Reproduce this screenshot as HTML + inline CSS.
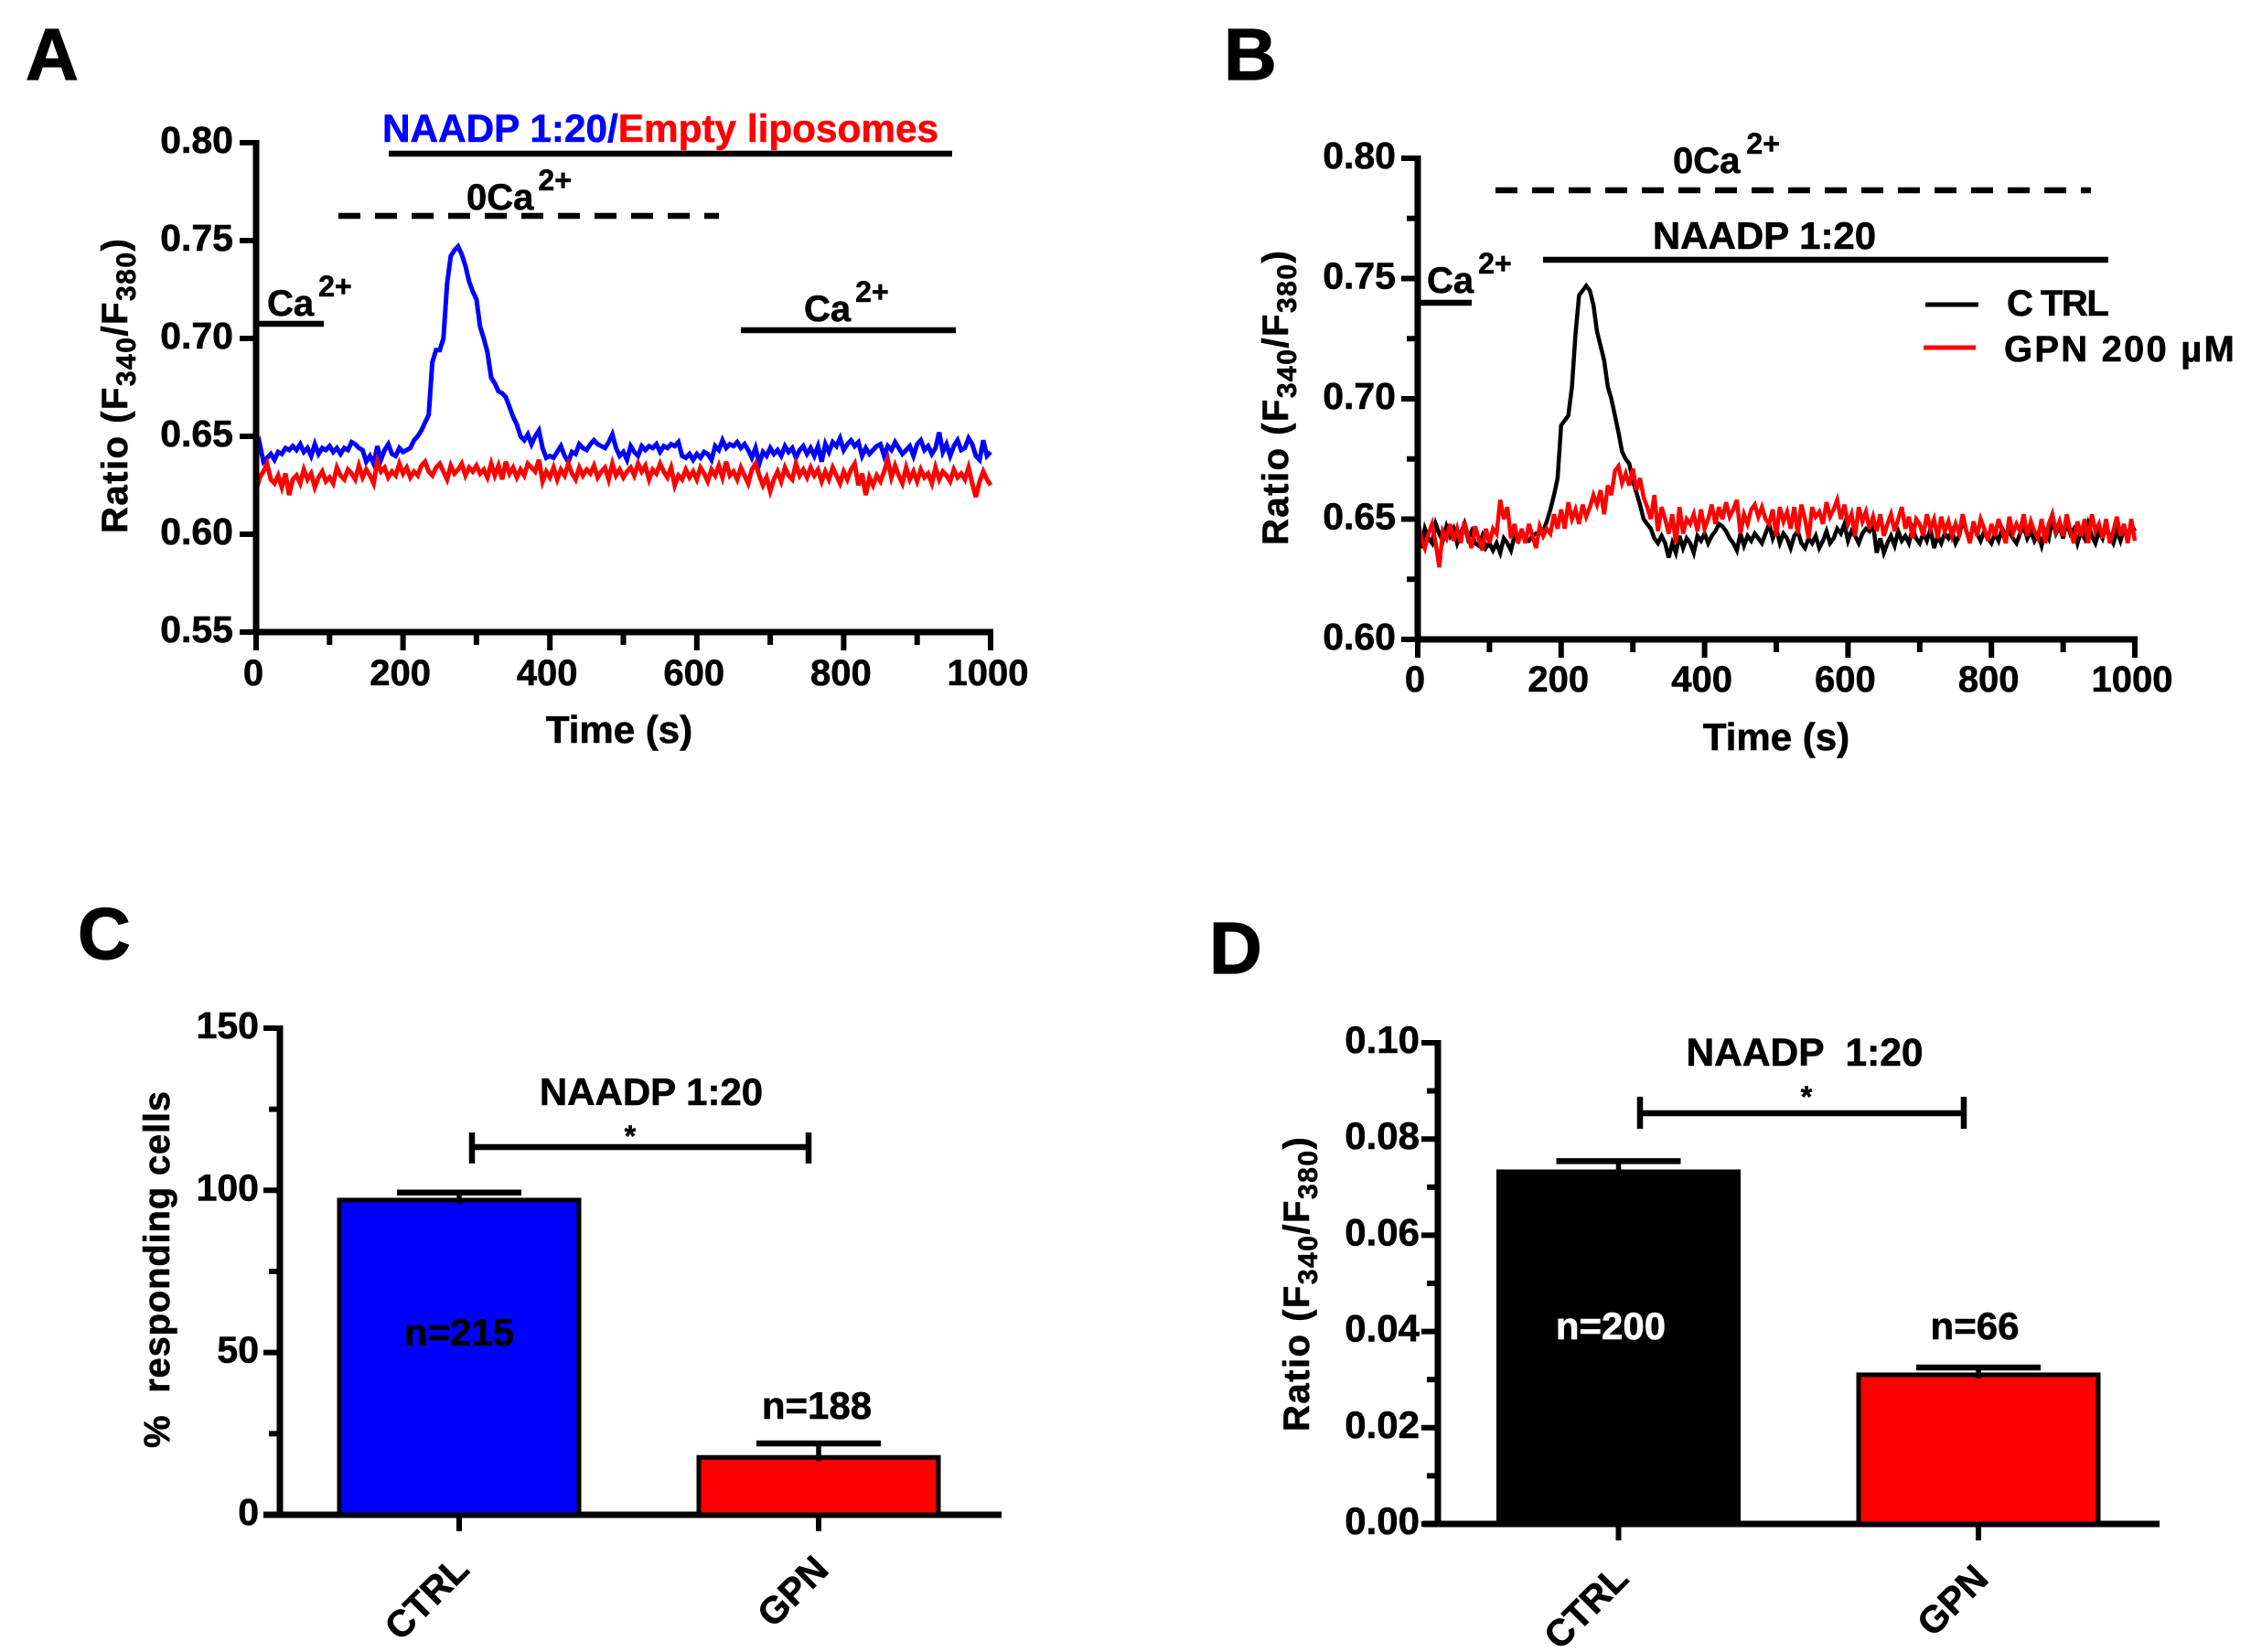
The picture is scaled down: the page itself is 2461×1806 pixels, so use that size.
<!DOCTYPE html>
<html lang="en">
<head>
<meta charset="utf-8">
<title>NAADP calcium response figure</title>
<style>
html,body{margin:0;padding:0;background:#fff;}
svg{display:block;}
text{font-family:"Liberation Sans",Arial,sans-serif;font-weight:700;fill:#000;stroke:#000;stroke-width:.6px;white-space:pre;}
.t40{font-size:40px;}
.t42{font-size:42px;}
.sup{font-size:32px;}
.letter{font-size:80px;stroke-width:1.2px;}
.bar{stroke:#000;stroke-width:6.5;fill:none;}
</style>
</head>
<body>
<svg id="fig" xmlns="http://www.w3.org/2000/svg" width="2461" height="1806" viewBox="0 0 2461 1806">
  <rect width="2461" height="1806" fill="#fff"/>

  <text class="letter" x="28" y="87">A</text>
  <text class="letter" x="1338" y="87">B</text>
  <text class="letter" x="85" y="1048">C</text>
  <text class="letter" x="1322" y="1064">D</text>

  <g id="panelA">
    <text x="418" y="155" style="font-size:42.3px"><tspan style="fill:#0000ff;stroke:#0000ff">NAADP 1:20/</tspan><tspan style="fill:#ff0000;stroke:#ff0000">Empty liposomes</tspan></text>
    <line class="bar" x1="425" x2="1041" y1="168" y2="168"/>
    <text class="t40" x="510" y="229">0Ca<tspan class="sup" dy="-21" dx="5">2+</tspan></text>
    <line class="bar" stroke-dasharray="24 16" x1="370" x2="786" y1="236" y2="236"/>
    <text class="t40" x="292" y="345">Ca<tspan class="sup" dy="-21" dx="5">2+</tspan></text>
    <line class="bar" x1="283" x2="354" y1="354" y2="354"/>
    <text class="t40" x="879" y="351">Ca<tspan class="sup" dy="-21" dx="5">2+</tspan></text>
    <line class="bar" x1="810" x2="1045" y1="361" y2="361"/>
    <text class="t40" transform="translate(139,583) rotate(-90)" style="letter-spacing:1.5px">Ratio (F<tspan dy="9" style="font-size:30px">340</tspan><tspan dy="-9">/F</tspan><tspan dy="9" style="font-size:30px">380</tspan><tspan dy="-9">)</tspan></text>
    <text class="t42" x="677" y="812" text-anchor="middle">Time (s)</text>
  </g>

  <g id="panelB">
    <text class="t40" x="1829" y="189">0Ca<tspan class="sup" dy="-21" dx="7">2+</tspan></text>
    <line class="bar" stroke-dasharray="24 16" x1="1635" x2="2286" y1="208" y2="208"/>
    <text class="t42" x="1929" y="272" text-anchor="middle">NAADP 1:20</text>
    <line class="bar" x1="1687" x2="2305" y1="284" y2="284"/>
    <text class="t40" x="1560" y="320">Ca<tspan class="sup" dy="-21" dx="5">2+</tspan></text>
    <line class="bar" x1="1552" x2="1609" y1="331" y2="331"/>
    <line stroke="#000" stroke-width="5" x1="2105" x2="2163" y1="333" y2="333"/>
    <text class="t40" x="2194" y="345" style="letter-spacing:-1.5px">C TRL</text>
    <line stroke="#f00" stroke-width="5" x1="2103" x2="2160" y1="380" y2="380"/>
    <text class="t40" x="2191" y="395" style="letter-spacing:2.2px">GPN 200 µM</text>
    <text class="t40" transform="translate(1408,596) rotate(-90)" style="letter-spacing:1.5px">Ratio (F<tspan dy="9" style="font-size:30px">340</tspan><tspan dy="-9">/F</tspan><tspan dy="9" style="font-size:30px">380</tspan><tspan dy="-9">)</tspan></text>
    <text class="t42" x="1942" y="820" text-anchor="middle">Time (s)</text>
  </g>

  <g id="panelC">
    <text class="t42" x="712" y="1208" text-anchor="middle">NAADP 1:20</text>
    <text x="689" y="1253" text-anchor="middle" style="font-size:32px">*</text>
    <path class="bar" d="M516 1238V1272M516 1254H884M884 1238V1272"/>
    <text class="t40" transform="translate(185,1583) rotate(-90)" style="letter-spacing:.8px">%  responding cells</text>
  </g>

  <g id="panelD">
    <text x="1973" y="1165" text-anchor="middle" style="font-size:42.5px">NAADP  1:20</text>
    <text x="1975" y="1210" text-anchor="middle" style="font-size:32px">*</text>
    <path class="bar" d="M1793 1199V1234M1793 1217H2147M2147 1199V1234"/>
    <text class="t40" transform="translate(1431,1565) rotate(-90)" style="letter-spacing:1.5px">Ratio (F<tspan dy="9" style="font-size:30px">340</tspan><tspan dy="-9">/F</tspan><tspan dy="9" style="font-size:30px">380</tspan><tspan dy="-9">)</tspan></text>
  </g>
</svg>

<script>
/* ---------- data ---------- */
const sampleIntervalSeconds = 5;
const timeTicks = [0,100,200,300,400,500,600,700,800,900,1000];
const timeTickLabels = ['0','','200','','400','','600','','800','','1000'];
const ratioTicksA = [0.55,0.60,0.65,0.70,0.75,0.80];
const ratioTicksB = [0.60,0.625,0.65,0.675,0.70,0.725,0.75,0.775,0.80];
const ratioTickLabelsB = ['0.60','','0.65','','0.70','','0.75','','0.80'];

const naadpBlueA = [
.640,.646,.637,.639,.641,.638,.642,.641,.644,.643,
.645,.643,.646,.642,.644,.640,.646,.641,.644,.643,
.645,.642,.644,.641,.644,.643,.647,.646,.644,.643,
.637,.640,.636,.645,.638,.643,.646,.641,.640,.644,
.642,.643,.644,.648,.650,.653,.657,.661,.688,.694,
.694,.700,.728,.742,.745,.747,.743,.737,.729,.724,
.720,.706,.700,.693,.680,.677,.673,.672,.670,.665,
.660,.656,.650,.648,.651,.646,.650,.653,.644,.639,
.640,.639,.642,.645,.640,.637,.642,.641,.646,.644,
.643,.646,.648,.646,.645,.644,.647,.651,.644,.640,
.642,.638,.645,.642,.640,.645,.643,.645,.644,.646,
.642,.645,.644,.646,.645,.647,.640,.639,.641,.638,
.641,.639,.642,.641,.638,.645,.643,.648,.644,.646,
.645,.647,.644,.646,.643,.639,.644,.636,.642,.640,
.644,.641,.643,.640,.645,.642,.644,.639,.643,.645,
.641,.644,.640,.645,.637,.646,.642,.647,.645,.649,
.643,.646,.648,.645,.647,.640,.644,.641,.643,.645,
.646,.640,.645,.643,.647,.644,.641,.643,.645,.640,
.646,.648,.643,.645,.641,.644,.652,.642,.646,.640,
.645,.648,.643,.644,.649,.646,.640,.638,.648,.640,.642];

const emptyRedA = [
.622,.629,.632,.636,.628,.626,.630,.624,.631,.620,
.628,.630,.626,.633,.628,.631,.624,.629,.632,.627,
.629,.626,.634,.630,.628,.633,.631,.628,.635,.629,
.633,.630,.626,.637,.632,.634,.629,.632,.630,.636,
.631,.634,.629,.632,.630,.635,.637,.632,.630,.634,
.636,.632,.628,.635,.631,.633,.636,.630,.634,.632,
.635,.631,.633,.629,.636,.630,.635,.628,.637,.631,
.634,.629,.633,.630,.636,.634,.632,.638,.627,.632,
.629,.634,.628,.633,.630,.636,.631,.628,.634,.630,
.633,.631,.635,.629,.632,.634,.628,.636,.630,.633,
.629,.632,.634,.630,.636,.632,.635,.628,.633,.631,
.636,.632,.629,.634,.625,.630,.628,.633,.629,.632,
.628,.634,.631,.627,.633,.630,.635,.629,.637,.630,
.632,.628,.634,.630,.626,.633,.636,.630,.625,.629,
.622,.628,.632,.627,.634,.630,.628,.636,.630,.633,
.629,.634,.630,.633,.627,.632,.628,.634,.630,.626,
.632,.628,.633,.636,.625,.631,.620,.629,.625,.630,
.627,.632,.638,.629,.635,.630,.626,.634,.628,.632,
.627,.633,.629,.631,.626,.634,.628,.632,.630,.627,
.633,.629,.631,.628,.634,.626,.619,.627,.632,.628,.625];

const ctrlBlackB = [
.643,.638,.646,.642,.640,.648,.644,.641,.647,.643,
.646,.640,.644,.648,.642,.645,.640,.639,.643,.638,
.640,.637,.640,.636,.642,.640,.637,.643,.641,.644,
.642,.641,.643,.644,.644,.645,.649,.654,.660,.667,
.689,.691,.693,.705,.727,.743,.745,.747,.745,.739,
.728,.722,.716,.705,.700,.693,.686,.678,.675,.673,
.666,.661,.656,.650,.648,.646,.642,.640,.643,.640,
.634,.640,.636,.643,.638,.642,.640,.636,.643,.641,
.644,.640,.643,.645,.648,.647,.645,.642,.640,.637,
.644,.639,.643,.641,.644,.642,.640,.644,.648,.642,
.646,.640,.644,.642,.638,.643,.645,.640,.638,.642,
.640,.643,.638,.641,.645,.640,.642,.646,.644,.648,
.641,.645,.643,.640,.644,.646,.645,.648,.636,.642,
.636,.640,.643,.639,.645,.641,.643,.640,.646,.642,
.640,.644,.641,.646,.638,.643,.640,.644,.642,.645,
.640,.643,.650,.645,.642,.647,.644,.641,.645,.642,
.640,.644,.641,.646,.643,.645,.642,.640,.644,.647,
.642,.645,.641,.644,.639,.645,.642,.650,.644,.647,
.642,.649,.644,.646,.640,.645,.642,.648,.643,.640,
.645,.642,.647,.643,.640,.645,.641,.646,.643,.648,.645];

const gpnRedB = [
.650,.642,.638,.644,.648,.640,.630,.645,.642,.648,
.641,.646,.640,.649,.643,.638,.647,.642,.637,.646,
.640,.646,.644,.658,.650,.655,.642,.648,.640,.646,
.640,.648,.643,.638,.647,.643,.646,.644,.652,.646,
.654,.646,.657,.650,.654,.648,.656,.651,.655,.660,
.656,.662,.652,.664,.660,.670,.672,.665,.669,.664,
.671,.662,.667,.659,.655,.650,.660,.645,.655,.650,
.644,.652,.640,.655,.644,.650,.648,.652,.645,.654,
.646,.650,.656,.648,.655,.650,.657,.651,.654,.658,
.644,.652,.648,.654,.656,.651,.655,.650,.648,.654,
.643,.655,.649,.653,.646,.655,.644,.656,.650,.642,
.655,.651,.653,.648,.657,.651,.654,.658,.650,.656,
.648,.652,.643,.655,.649,.653,.646,.651,.645,.652,
.643,.648,.652,.645,.650,.655,.646,.651,.642,.650,
.648,.643,.652,.646,.650,.642,.651,.645,.649,.643,
.648,.644,.652,.645,.640,.649,.643,.650,.646,.641,
.648,.643,.650,.645,.640,.651,.644,.648,.645,.652,
.643,.649,.645,.642,.650,.640,.648,.652,.645,.649,
.643,.652,.645,.640,.649,.643,.650,.640,.652,.645,
.648,.642,.650,.640,.645,.651,.643,.648,.640,.650,.641];

const barCategories = ['CTRL','GPN'];
const responseTicks = [0,25,50,75,100,125,150];
const responseTickLabels = ['0','','50','','100','','150'];
const responseValues = [97,17.7];
const responseErrors = [2.3,4.3];
const responseCounts = ['n=215','n=188'];
const amplitudeTicks = [0,0.01,0.02,0.03,0.04,0.05,0.06,0.07,0.08,0.09,0.10];
const amplitudeTickLabels = ['0.00','','0.02','','0.04','','0.06','','0.08','','0.10'];
const amplitudeValues = [0.0732,0.031];
const amplitudeErrors = [0.0022,0.0015];
const amplitudeCounts = ['n=200','n=66'];

/* ---------- helpers ---------- */
const NS = 'http://www.w3.org/2000/svg';
function mk(tag, attrs, parent, text) {
  const el = document.createElementNS(NS, tag);
  for (const k in attrs) el.setAttribute(k, attrs[k]);
  if (text !== undefined) el.textContent = text;
  parent.appendChild(el);
  return el;
}
const AXIS_W = 7;
const TICK_W = 6;

/* axis functions */
const xA = t => 280 + t * 0.803;
const yA = v => 156 + (0.80 - v) * 2140;
const xB = t => 1550 + t * 0.784;
const yB = v => 173 + (0.80 - v) * 2630;
const yC = v => 1656 - v * 3.547;
const yD = v => 1666 - v * 5260;
const bandC = i => 502 + 393 * i;
const bandD = i => 1769.5 + 393.5 * i;

/* ---------- line panels ---------- */
function drawTrace(parent, values, xf, yf, color, width, name) {
  const pts = values.map((v, i) => xf(i * sampleIntervalSeconds).toFixed(1) + ',' + yf(v).toFixed(1)).join(' ');
  const el = mk('polyline', {points: pts, fill: 'none', stroke: color, 'stroke-width': width, 'stroke-linejoin': 'miter'}, parent);
  
  
}

function drawTimeAxis(parent, xf, yBase, labelBaseline) {
  const axis = mk('line', {x1: xf(0) - 3, x2: xf(1000) + 3, y1: yBase, y2: yBase, stroke: '#000', 'stroke-width': AXIS_W}, parent);
  
  
  timeTicks.forEach((t, i) => {
    const major = timeTickLabels[i] !== '';
    const tick = mk('line', {x1: xf(t), x2: xf(t), y1: yBase, y2: yBase + (major ? 20 : 14), stroke: '#000', 'stroke-width': TICK_W}, parent);
    
    
    if (major) {
      const lab = mk('text', {x: xf(t) - 3, y: labelBaseline, 'text-anchor': 'middle', class: 't40'}, parent, timeTickLabels[i]);
      
      
    }
  });
}

function drawValueAxis(parent, yf, ticks, labels, xAxis, labelRight, tickLen, minorLen, labelSize) {
  const top = Math.min(...ticks.map(yf)), bottom = Math.max(...ticks.map(yf));
  const axis = mk('line', {x1: xAxis, x2: xAxis, y1: top - 3, y2: bottom + 3, stroke: '#000', 'stroke-width': AXIS_W}, parent);
  
  
  ticks.forEach((v, i) => {
    const major = labels[i] !== '';
    const tick = mk('line', {x1: xAxis - (major ? tickLen : minorLen), x2: xAxis, y1: yf(v), y2: yf(v), stroke: '#000', 'stroke-width': TICK_W}, parent);
    
    
    if (major) {
      const lab = mk('text', {x: labelRight, y: yf(v) + 11, 'text-anchor': 'end', style: 'font-size:' + labelSize + 'px'}, parent, labels[i]);
      
      
    }
  });
}

const gA = document.getElementById('panelA');
drawTrace(gA, naadpBlueA, xA, yA, '#0000ff', 5, 'series-naadp-blue');
drawTrace(gA, emptyRedA, xA, yA, '#ff0000', 5, 'series-empty-liposomes-red');
drawValueAxis(gA, yA, ratioTicksA, ratioTicksA.map(v => v.toFixed(2)), 280, 255, 18, 18, 41);
drawTimeAxis(gA, xA, 691, 749);

const gB = document.getElementById('panelB');
drawTrace(gB, ctrlBlackB, xB, yB, '#000000', 4.5, 'series-ctrl-black');
drawTrace(gB, gpnRedB, xB, yB, '#ff0000', 4.5, 'series-gpn-red');
drawValueAxis(gB, yB, ratioTicksB, ratioTickLabelsB, 1550, 1526, 18, 12, 41);
drawTimeAxis(gB, xB, 699, 756);

/* ---------- bar panels ---------- */
function drawBars(parent, cfg) {
  drawValueAxis(parent, cfg.y, cfg.ticks, cfg.tickLabels, cfg.axisX, cfg.labelRight, 18, 12, cfg.labelSize);
  const base = cfg.y(0);
  const axis = mk('line', {x1: cfg.axisStart, x2: cfg.axisEnd, y1: base, y2: base, stroke: '#000', 'stroke-width': AXIS_W}, parent);
  
  
  barCategories.forEach((cat, i) => {
    const cx = cfg.band(i), top = cfg.y(cfg.values[i]), cap = cfg.y(cfg.values[i] + cfg.errors[i]);
    const rect = mk('rect', {x: cx - 131, y: top, width: 262, height: base - top, fill: cfg.colors[i], stroke: '#000', 'stroke-width': 5}, parent);
    
    
    const stem = mk('line', {x1: cx, x2: cx, y1: top + 4, y2: cap, stroke: '#000', 'stroke-width': 5.5}, parent);
    
    
    const capEl = mk('line', {x1: cx - 68, x2: cx + 68, y1: cap, y2: cap, stroke: '#000', 'stroke-width': 6.5}, parent);
    
    
    const tick = mk('line', {x1: cx, x2: cx, y1: base, y2: base + 18, stroke: '#000', 'stroke-width': TICK_W}, parent);
    
    
    const ax = cx + cfg.labelDx, ay = base + cfg.labelDy;
    const lab = mk('text', {x: ax, y: ay, 'text-anchor': 'end', style: 'font-size:41px', transform: 'rotate(-45 ' + ax + ' ' + ay + ')'}, parent, cat);
    
    
    const n = mk('text', {x: cfg.countX(i), y: cfg.countY(i), 'text-anchor': 'middle', class: 't42', style: 'fill:' + cfg.countColors[i] + ';stroke:' + cfg.countColors[i]}, parent, cfg.counts[i]);
    
    
  });
}

drawBars(document.getElementById('panelC'), {
  y: yC, ticks: responseTicks, tickLabels: responseTickLabels, axisX: 306, labelRight: 283, labelSize: 41,
  axisStart: 288, axisEnd: 1095, band: bandC, values: responseValues, errors: responseErrors,
  colors: ['#0000ff', '#ff0000'], counts: responseCounts, countColors: ['#000', '#000'],
  countX: i => i === 0 ? 502 : 893, countY: i => i === 0 ? 1471 : 1551,
  labelDx: 13, labelDy: 62
});
drawBars(document.getElementById('panelD'), {
  y: yD, ticks: amplitudeTicks, tickLabels: amplitudeTickLabels, axisX: 1572, labelRight: 1552, labelSize: 42,
  axisStart: 1556, axisEnd: 2361, band: bandD, values: amplitudeValues, errors: amplitudeErrors,
  colors: ['#000000', '#ff0000'], counts: amplitudeCounts, countColors: ['#fff', '#000'],
  countX: i => i === 0 ? 1761 : 2159, countY: () => 1464,
  labelDx: 13, labelDy: 62
});
</script>
</body>
</html>
